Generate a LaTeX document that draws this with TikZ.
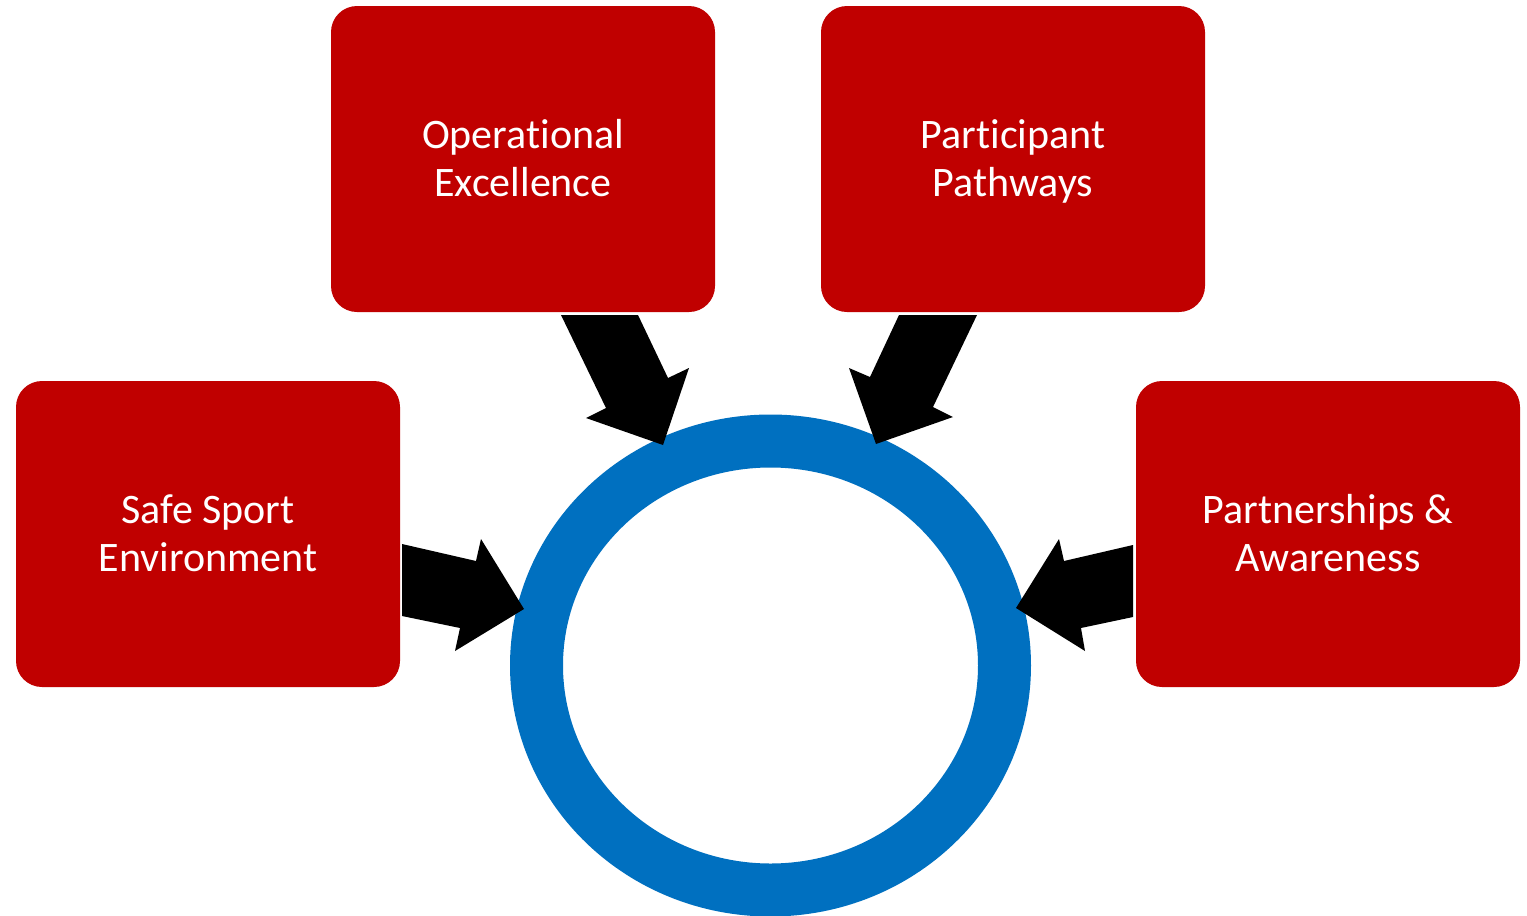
\documentclass[tikz,border=0pt]{standalone}
\usepackage{fontspec}
\setmainfont{Carlito}[Ligatures=NoCommon]
\usetikzlibrary{shapes.geometric}
\definecolor{boxred}{RGB}{192,0,0}
\definecolor{ringblue}{RGB}{0,112,192}
\newcommand\firstln{\rule{0pt}{41pt}}
\newcommand\lastln{\rule[-14pt]{0pt}{1pt}}
\begin{document}
\begin{tikzpicture}[x=1pt,y=-1pt,
  redbox/.style={fill=boxred, rounded corners=26pt, minimum width=384pt, minimum height=306pt,
    inner sep=0pt, text=white, align=center, font=\fontsize{42}{47.5}\selectfont},
  blockarrow/.style={fill=black}]
\useasboundingbox (0,0) rectangle (1527,916);
\fill[white] (0,0) rectangle (1527,916);
\node[redbox] (ops) at (523,159) {\firstln Operational\\Excellence\lastln};
\node[redbox] (part) at (1013,159) {\firstln Participant\\Pathways\lastln};
\node[redbox] (safe) at (208,534) {\firstln Safe Sport\\Environment\lastln};
\node[redbox] (pship) at (1328,534) {\firstln Partnerships \&\\Awareness\lastln};
\node[draw=ringblue, line width=53pt, ellipse, minimum width=468pt, minimum height=449pt, inner sep=0pt] (hub) at (770.5,665.5) {};
% block arrows into the hub
\fill[blockarrow] (402,544) -- (476,561) -- (481,539) -- (524,609) -- (455,651) -- (460,628) -- (402,616) -- cycle;
\fill[blockarrow] (1133,545) -- (1064,561) -- (1059,539) -- (1016,608) -- (1085,651) -- (1081,628) -- (1133,617) -- cycle;
\fill[blockarrow] (561,315) -- (638,315) -- (668,378) -- (689,368) -- (663,445) -- (586,418) -- (606,408) -- cycle;
\fill[blockarrow] (977,315) -- (899,315) -- (870,377) -- (849,368) -- (876,444) -- (953,417) -- (933,407) -- cycle;
\end{tikzpicture}
\end{document}
